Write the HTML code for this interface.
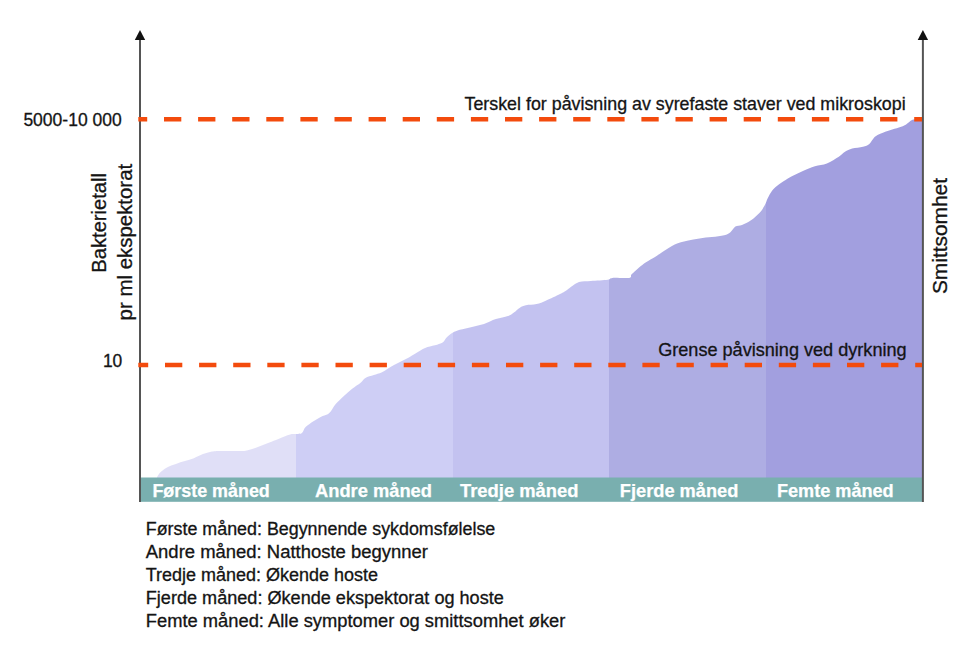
<!DOCTYPE html>
<html><head><meta charset="utf-8"><style>
html,body{margin:0;padding:0;background:#fff;}
svg{display:block;}
text{font-family:"Liberation Sans",sans-serif;}
</style></head><body>
<svg width="970" height="668" viewBox="0 0 970 668">
<defs>
<linearGradient id="g" gradientUnits="userSpaceOnUse" x1="140" y1="0" x2="923" y2="0">
<stop offset="0" stop-color="#e0dff7"/><stop offset="0.1992" stop-color="#e0dff7"/>
<stop offset="0.1992" stop-color="#cecef5"/><stop offset="0.3997" stop-color="#cecef5"/>
<stop offset="0.3997" stop-color="#c3c2f0"/><stop offset="0.5990" stop-color="#c3c2f0"/>
<stop offset="0.5990" stop-color="#aeade3"/><stop offset="0.7999" stop-color="#aeade3"/>
<stop offset="0.7999" stop-color="#a29fdf"/><stop offset="1" stop-color="#a29fdf"/>
</linearGradient>
</defs>
<path d="M157.1,477.0 C157.7,476.2 159.0,473.7 160.7,472.1 C162.3,470.5 164.5,468.8 167.0,467.4 C169.5,466.0 172.9,464.9 175.9,463.9 C178.9,462.8 181.9,462.1 184.9,461.1 C187.9,460.2 190.9,459.4 193.9,458.2 C196.9,457.0 200.2,455.2 202.9,454.1 C205.6,453.1 207.2,452.4 210.0,451.9 C212.8,451.4 214.6,451.1 220.0,451.0 C225.4,450.9 237.3,451.3 242.5,451.0 C247.7,450.7 248.4,450.0 251.4,449.2 C254.4,448.4 257.4,447.1 260.4,446.0 C263.4,444.9 266.4,443.7 269.4,442.5 C272.4,441.3 274.9,440.2 278.4,438.9 C281.8,437.5 287.2,435.2 290.1,434.4 C293.0,433.6 294.0,434.2 296.0,434.0 C298.0,433.8 300.4,434.2 302.0,433.0 C303.6,431.8 303.6,429.0 305.6,427.0 C307.6,425.0 311.3,422.7 313.9,421.0 C316.5,419.3 318.9,417.9 321.1,416.8 C323.3,415.7 325.5,415.4 327.1,414.5 C328.7,413.6 329.3,413.2 330.7,411.5 C332.1,409.8 333.3,406.9 335.5,404.3 C337.7,401.7 341.1,398.5 343.9,395.9 C346.7,393.3 349.4,390.9 352.2,388.7 C355.0,386.5 358.4,384.5 360.6,382.7 C362.8,380.9 363.2,379.3 365.4,378.0 C367.6,376.7 371.0,375.9 373.8,375.0 C376.6,374.1 378.6,373.9 382.0,372.3 C385.4,370.7 390.0,367.3 394.0,365.1 C398.0,362.9 401.9,361.3 405.9,359.1 C409.9,356.9 414.3,353.9 417.9,351.9 C421.5,349.9 424.3,348.3 427.5,347.1 C430.7,345.9 434.5,345.5 437.1,344.7 C439.7,343.9 441.4,343.5 443.0,342.3 C444.6,341.1 445.0,339.1 446.6,337.5 C448.2,335.9 450.4,334.1 452.6,332.8 C454.8,331.5 456.6,330.8 459.8,329.8 C463.0,328.8 468.0,327.9 472.0,326.9 C476.0,325.9 480.0,325.2 484.0,323.9 C488.0,322.6 491.9,320.4 495.9,319.1 C499.9,317.8 504.9,317.2 507.9,316.1 C510.9,315.0 511.9,313.9 513.9,312.5 C515.9,311.1 517.9,308.9 519.9,307.7 C521.9,306.5 523.1,305.9 525.9,305.3 C528.7,304.7 533.2,304.9 536.6,304.1 C540.0,303.3 542.3,302.2 546.2,300.5 C550.1,298.8 556.5,295.8 560.0,294.0 C563.5,292.2 563.8,291.9 567.0,289.9 C570.2,287.9 575.0,283.6 579.0,282.1 C583.0,280.6 586.1,281.3 590.9,280.9 C595.7,280.5 604.1,280.2 607.7,279.7 C611.3,279.2 608.9,278.2 612.5,277.9 C616.1,277.6 626.1,278.5 629.3,277.9 C632.5,277.3 630.0,276.0 631.6,274.3 C633.2,272.6 636.4,269.7 638.8,267.7 C641.2,265.7 643.3,264.1 646.0,262.3 C648.7,260.5 652.3,258.7 655.0,257.0 C657.7,255.3 659.1,254.1 662.4,252.0 C665.7,249.9 670.6,246.4 674.7,244.5 C678.8,242.6 683.0,241.8 687.1,240.8 C691.2,239.8 695.4,239.0 699.5,238.4 C703.6,237.8 707.8,237.6 711.9,237.1 C716.0,236.6 721.1,236.1 724.2,235.3 C727.3,234.5 728.5,233.6 730.4,232.2 C732.3,230.8 733.5,227.8 735.4,226.6 C737.3,225.4 739.4,226.1 742.0,225.0 C744.6,223.9 748.1,222.3 751.0,220.3 C753.9,218.3 757.1,215.4 759.4,213.0 C761.7,210.6 763.2,208.0 764.6,205.6 C766.0,203.2 766.5,200.7 767.7,198.3 C768.9,195.9 770.3,193.1 771.9,191.0 C773.5,188.9 774.9,187.5 777.2,185.7 C779.5,183.9 783.0,181.7 785.6,180.0 C788.2,178.3 790.0,177.3 792.9,175.8 C795.8,174.3 799.2,172.7 802.9,171.1 C806.6,169.5 810.9,167.6 814.9,166.3 C818.9,165.0 822.9,165.0 826.9,163.4 C830.9,161.8 835.8,158.7 838.8,156.8 C841.8,154.9 842.8,153.2 845.0,151.8 C847.2,150.4 849.2,149.4 852.2,148.6 C855.2,147.8 860.1,147.6 863.0,146.8 C865.9,146.1 867.4,145.7 869.3,144.1 C871.2,142.5 872.7,138.8 874.6,137.0 C876.5,135.2 878.4,134.5 880.9,133.4 C883.4,132.3 886.9,131.2 889.9,130.2 C892.9,129.2 896.2,128.5 898.9,127.5 C901.6,126.5 904.0,125.6 906.1,124.4 C908.2,123.2 909.9,121.2 911.5,120.3 C913.1,119.4 914.1,119.5 916.0,119.3 C917.9,119.1 921.8,119.3 923.0,119.3 L923,478 L157,478 Z" fill="url(#g)"/>
<rect x="139" y="477.5" width="784" height="24.3" fill="#79afaf"/>
<line x1="140" y1="38" x2="140" y2="502" stroke="#555555" stroke-width="2"/>
<line x1="922.9" y1="38" x2="922.9" y2="502" stroke="#555555" stroke-width="2"/>
<path d="M140,30 L145.2,40 L134.8,40 Z" fill="#111"/>
<path d="M922.9,30 L928.1,40 L917.7,40 Z" fill="#111"/>
<line x1="138.3" y1="119.3" x2="922" y2="119.3" stroke="#f34b0d" stroke-width="4.5" stroke-dasharray="17.3 16.8" stroke-dashoffset="8.400000000000006"/>
<line x1="138.3" y1="365" x2="922" y2="365" stroke="#f34b0d" stroke-width="4.5" stroke-dasharray="17.3 16.8" stroke-dashoffset="7.400000000000006"/>
<g fill="#141414" stroke="#141414" stroke-width="0.3" font-size="17.8">
<text x="23.4" y="125.8" textLength="98.3" lengthAdjust="spacingAndGlyphs">5000-10 000</text>
<text x="102.9" y="366.7" textLength="19.4" lengthAdjust="spacingAndGlyphs">10</text>
<text x="464.5" y="110.1" textLength="441.1" lengthAdjust="spacingAndGlyphs">Terskel for påvisning av syrefaste staver ved mikroskopi</text>
<text x="658.2" y="355.6" textLength="248.4" lengthAdjust="spacingAndGlyphs">Grense påvisning ved dyrkning</text>
</g>
<g fill="#141414" stroke="#141414" stroke-width="0.3" font-size="19.8">
<text transform="translate(105.9,272.7) rotate(-90)" x="0" y="0" textLength="99.7" lengthAdjust="spacingAndGlyphs">Bakterietall</text>
<text transform="translate(132.0,320.4) rotate(-90)" x="0" y="0" textLength="156.6" lengthAdjust="spacingAndGlyphs">pr ml ekspektorat</text>
<text transform="translate(946.8,294.1) rotate(-90)" x="0" y="0" textLength="116.1" lengthAdjust="spacingAndGlyphs">Smittsomhet</text>
</g>
<g fill="#fff" stroke="#fff" stroke-width="0.25" font-size="18.6" font-weight="bold">
<text x="152.4" y="497.4" textLength="117.4" lengthAdjust="spacingAndGlyphs">Første måned</text>
<text x="315.0" y="497.4" textLength="117.0" lengthAdjust="spacingAndGlyphs">Andre måned</text>
<text x="460.0" y="497.4" textLength="118.5" lengthAdjust="spacingAndGlyphs">Tredje måned</text>
<text x="619.8" y="497.4" textLength="118.6" lengthAdjust="spacingAndGlyphs">Fjerde måned</text>
<text x="776.9" y="497.4" textLength="116.8" lengthAdjust="spacingAndGlyphs">Femte måned</text>
</g>
<g fill="#141414" stroke="#141414" stroke-width="0.3" font-size="17.5">
<text x="145.8" y="535.0" textLength="349.5" lengthAdjust="spacingAndGlyphs">Første måned: Begynnende sykdomsfølelse</text>
<text x="145.8" y="558.2" textLength="282.1" lengthAdjust="spacingAndGlyphs">Andre måned: Natthoste begynner</text>
<text x="145.8" y="581.4" textLength="232.2" lengthAdjust="spacingAndGlyphs">Tredje måned: Økende hoste</text>
<text x="145.8" y="604.4" textLength="358.0" lengthAdjust="spacingAndGlyphs">Fjerde måned: Økende ekspektorat og hoste</text>
<text x="145.8" y="627.4" textLength="419.6" lengthAdjust="spacingAndGlyphs">Femte måned: Alle symptomer og smittsomhet øker</text>
</g>
</svg>
</body></html>
